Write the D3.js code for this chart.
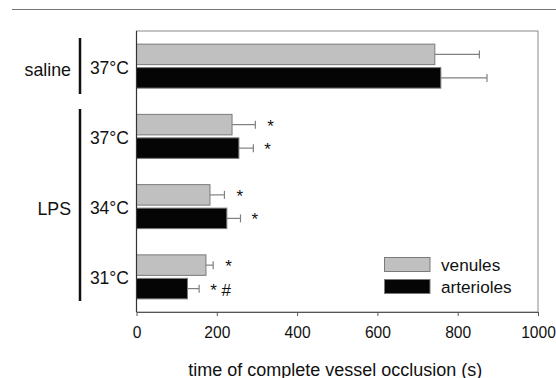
<!DOCTYPE html>
<html>
<head>
<meta charset="utf-8">
<script src="https://cdn.jsdelivr.net/npm/d3@7"></script>
<style>
  body { margin: 0; background: #fff; }
  svg { display: block; font-family: "Liberation Sans", Arial, sans-serif; }
</style>
</head>
<body>
<svg id="chart" width="556" height="378"></svg>
<script>
// Conditions, top to bottom
const conditions = ["saline 37°C", "LPS 37°C", "LPS 34°C", "LPS 31°C"];
const tempLabels = ["37°C", "37°C", "34°C", "31°C"];
// Mean occlusion times (s) and upper error bar ends (mean + SD)
const venules = [743, 238, 183, 173];
const venulesErr = [854, 296, 219, 191];
const arterioles = [758, 255, 225, 127];
const arteriolesErr = [873, 291, 259, 156];
// Significance marks next to each bar
const venulesMarks = ["", "*", "*", "*"];
const arteriolesMarks = ["", "*", "*", "* #"];
const xTicks = [0, 200, 400, 600, 800, 1000];

(function draw() {
  const svg = d3.select("#chart");
  const plotLeft = 136.5, plotRight = 538, plotTop = 31, plotBottom = 312;

  const x = d3.scaleLinear().domain([0, 1000]).range([plotLeft, plotRight]);
  const y = d3.scaleBand().domain(conditions).range([plotTop, plotBottom]);

  // rule across the top of the panel
  svg.append("line").attr("x1", 12).attr("x2", 556).attr("y1", 9.5).attr("y2", 9.5)
    .attr("stroke", "#777").attr("stroke-width", 1.2);

  // plot frame
  svg.append("rect").attr("x", plotLeft).attr("y", plotTop)
    .attr("width", plotRight - plotLeft).attr("height", plotBottom - plotTop)
    .attr("fill", "none").attr("stroke", "#8a8a8a").attr("stroke-width", 1);

  const series = [
    { key: "venules", vals: venules, err: venulesErr, marks: venulesMarks, fill: "#c0c0c0", off: -22, starDx: 12 },
    { key: "arterioles", vals: arterioles, err: arteriolesErr, marks: arteriolesMarks, fill: "#050505", off: 1.5, starDx: 11 }
  ];
  const barH = 20.5;

  series.forEach(s => {
    const g = svg.append("g");
    const rows = conditions.map((c, i) => ({ c, v: s.vals[i], e: s.err[i], m: s.marks[i] }));
    const cy = d => y(d.c) + y.bandwidth() / 2 + s.off;
    // error bars
    g.selectAll(".eb").data(rows).join("line").attr("class", "eb")
      .attr("x1", d => x(d.v)).attr("x2", d => x(d.e))
      .attr("y1", d => cy(d) + barH / 2).attr("y2", d => cy(d) + barH / 2)
      .attr("stroke", "#808080").attr("stroke-width", 1.2);
    g.selectAll(".cap").data(rows).join("line").attr("class", "cap")
      .attr("x1", d => x(d.e)).attr("x2", d => x(d.e))
      .attr("y1", d => cy(d) + barH / 2 - 4).attr("y2", d => cy(d) + barH / 2 + 4)
      .attr("stroke", "#808080").attr("stroke-width", 1.2);
    // bars
    g.selectAll(".bar").data(rows).join("rect").attr("class", "bar")
      .attr("x", x(0)).attr("y", d => cy(d))
      .attr("width", d => x(d.v) - x(0)).attr("height", barH)
      .attr("fill", s.fill).attr("stroke", "#7a7a7a").attr("stroke-width", 1);
    // significance marks
    g.selectAll(".mark").data(rows).join("text").attr("class", "mark")
      .attr("x", d => x(d.e) + s.starDx).attr("y", d => cy(d) + barH / 2 + 7)
      .attr("font-size", 17).attr("fill", "#111")
      .text(d => d.m);
  });

  // left axis line
  svg.append("line").attr("x1", plotLeft).attr("x2", plotLeft).attr("y1", plotTop).attr("y2", plotBottom)
    .attr("stroke", "#333").attr("stroke-width", 1.2);

  // bottom axis
  const xAxis = svg.append("g").attr("transform", `translate(0,${plotBottom})`)
    .call(d3.axisBottom(x).tickValues(xTicks).tickSize(4).tickSizeOuter(0).tickPadding(11).tickFormat(d3.format("d")));
  xAxis.select(".domain").attr("stroke", "#555");
  xAxis.selectAll(".tick line").attr("stroke", "#555");
  xAxis.selectAll(".tick text").attr("font-size", 15.6).attr("fill", "#111")
    .attr("font-family", "Liberation Sans, Arial, sans-serif");

  svg.append("text").attr("x", (plotLeft + plotRight) / 2 - 2).attr("y", 375.5)
    .attr("text-anchor", "middle").attr("font-size", 18).attr("fill", "#111")
    .text("time of complete vessel occlusion (s)");

  // temperature labels
  svg.selectAll(".temp").data(conditions).join("text").attr("class", "temp")
    .attr("x", 129).attr("y", d => y(d) + y.bandwidth() / 2 + 7.5)
    .attr("text-anchor", "end").attr("font-size", 17.5).attr("fill", "#111")
    .text((d, i) => tempLabels[i]);

  // treatment brackets
  const groups = [
    { label: "saline", y1: 38, y2: 94, ly: 69 },
    { label: "LPS", y1: 109, y2: 301, ly: 208 }
  ];
  groups.forEach(gr => {
    svg.append("line").attr("x1", 80).attr("x2", 80).attr("y1", gr.y1).attr("y2", gr.y2)
      .attr("stroke", "#111").attr("stroke-width", 2.5);
    svg.append("text").attr("x", 71).attr("y", gr.ly + 6.5)
      .attr("text-anchor", "end").attr("font-size", 17.8).attr("fill", "#111").text(gr.label);
  });

  // legend
  const legend = [
    { label: "venules", fill: "#c0c0c0", y: 257.5 },
    { label: "arterioles", fill: "#050505", y: 279.5 }
  ];
  legend.forEach(l => {
    svg.append("rect").attr("x", 384.5).attr("y", l.y).attr("width", 45.5).attr("height", 14)
      .attr("fill", l.fill).attr("stroke", "#7a7a7a").attr("stroke-width", 1);
    svg.append("text").attr("x", 441).attr("y", l.y + 13.5)
      .attr("font-size", 17.2).attr("fill", "#111").text(l.label);
  });
})();
</script>
</body>
</html>
